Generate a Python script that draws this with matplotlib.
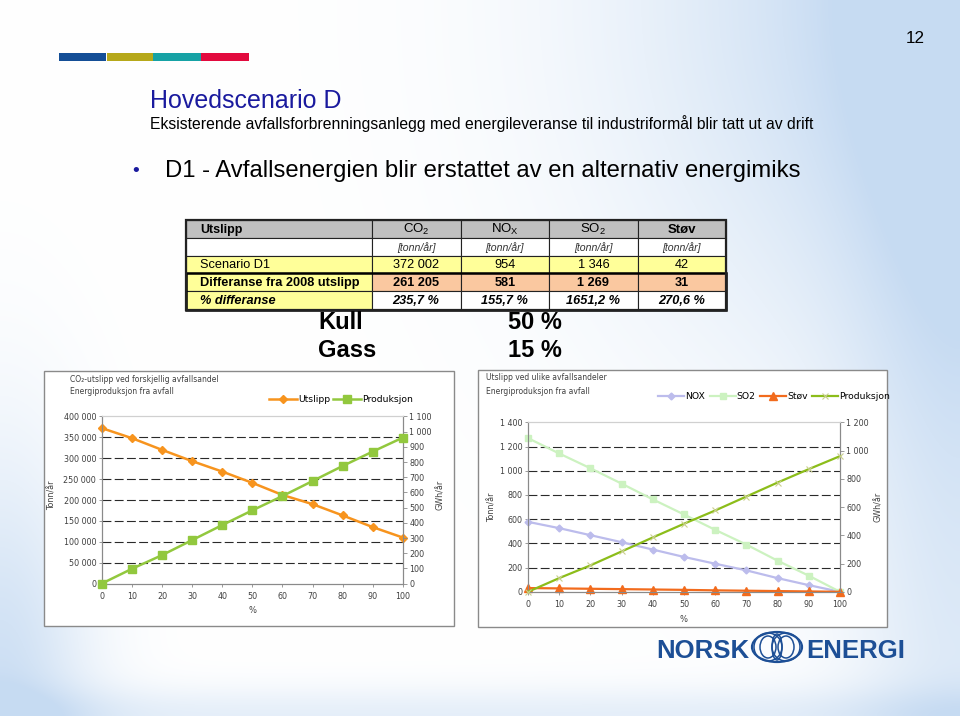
import numpy as np
import matplotlib
matplotlib.use("Agg")
import matplotlib.pyplot as plt
from matplotlib.patches import Rectangle, Ellipse
from matplotlib.ticker import FuncFormatter

W, H = 960, 716
SLIDE = ['Liberation Sans', 'DejaVu Sans']
plt.rcParams['font.family'] = ['DejaVu Sans']

# data
pct = [0, 10, 20, 30, 40, 50, 60, 70, 80, 90, 100]
co2_utslipp = [372000, 348000, 320000, 293000, 268000, 241000, 212000, 190000, 163000, 135000, 110000]
produksjon = [0, 97, 187, 286, 385, 482, 576, 675, 774, 869, 961]
nox = [578, 526, 468, 410, 349, 288, 232, 177, 113, 55, 0]
so2 = [1270, 1143, 1021, 894, 764, 639, 512, 390, 257, 133, 0]
stov = [31, 28, 25, 22, 19, 16, 12, 9, 6, 3, 0]

co2_ticks = list(range(0, 400001, 50000))
gwh_ticks_left = list(range(0, 1101, 100))
tonn_ticks = list(range(0, 1401, 200))
gwh_ticks_right = list(range(0, 1201, 200))

table_head = ['Utslipp', r'CO$_\mathregular{2}$', r'NO$_\mathregular{X}$', r'SO$_\mathregular{2}$', 'Støv']
table_unit = '[tonn/år]'
table_rows = ['Scenario D1', 'Differanse fra 2008 utslipp', '% differanse']
table_vals = [['372 002', '954', '1 346', '42'],
              ['261 205', '581', '1 269', '31'],
              ['235,7 %', '155,7 %', '1651,2 %', '270,6 %']]
energimiks = [('Kull', '50 %'), ('Gass', '15 %')]

fig = plt.figure(figsize=(W / 100, H / 100), dpi=100)


def box(x0, y0, x1, y1):
    return [x0 / W, 1 - y1 / H, (x1 - x0) / W, (y1 - y0) / H]


# slide background
bg = fig.add_axes([0, 0, 1, 1])
yy, xx = np.mgrid[0:H, 0:W].astype(float)
k = (np.exp(-(((W - xx) / 330.0) ** 2 + (yy / 380.0) ** 2))
     + 0.55 * np.exp(-((W - xx) / 110.0) ** 2)
     + 0.9 * np.exp(-((xx / 90.0) ** 2 + ((H - yy) / 260.0) ** 2))
     + 0.45 * np.exp(-((H - yy) / 30.0) ** 2))
k = np.clip(k, 0, 1)[..., None]
tint = np.array([0.78, 0.86, 0.95])
bg.imshow(1 - k * (1 - tint), extent=[0, W, H, 0], aspect='auto', zorder=0)
bg.set_xlim(0, W)
bg.set_ylim(H, 0)
bg.axis('off')

# coloured strip
for x0, c in zip([58.8, 106.5, 153, 201], ['#144e96', '#b6a81a', '#16a2a5', '#e20a3e']):
    bg.add_patch(Rectangle((x0, 53.4), 47.5, 7.3, color=c, lw=0, zorder=2))

bg.text(925, 43.4, '12', ha='right', va='baseline', fontsize=12.3, family=SLIDE)
bg.text(150, 108, 'Hovedscenario D', fontsize=18, color='#1a1a9e', family=SLIDE, va='baseline')
bg.text(150, 128.8, 'Eksisterende avfallsforbrenningsanlegg med energileveranse til industriformål blir tatt ut av drift',
        fontsize=11.3, family=SLIDE, va='baseline')
bg.text(136, 176, '•', fontsize=14, color='#1a1a9e', family=SLIDE, ha='center', va='baseline')
bg.text(165, 177, 'D1 - Avfallsenergien blir erstattet av en alternativ energimiks',
        fontsize=17.2, family=SLIDE, va='baseline')

# table
cols_x = [185.5, 371.7, 460.5, 549.3, 637.5, 725.7]
rows_y = [220, 238.4, 255.7, 273, 291.3, 309.6]
fills = [['#c0c0c0'] * 5, ['white'] * 5, ['#ffff99'] * 5,
         ['#ffff99'] + ['#fac8a0'] * 4, ['#ffff99'] + ['white'] * 4]
for r in range(5):
    for c in range(5):
        bg.add_patch(Rectangle((cols_x[c], rows_y[r]), cols_x[c + 1] - cols_x[c], rows_y[r + 1] - rows_y[r],
                               facecolor=fills[r][c], edgecolor='#222222', lw=0.8, zorder=3))
bg.add_patch(Rectangle((cols_x[0], rows_y[3]), cols_x[-1] - cols_x[0], rows_y[5] - rows_y[3],
                       fill=False, edgecolor='black', lw=1.8, zorder=4))
bg.add_patch(Rectangle((cols_x[0], rows_y[0]), cols_x[-1] - cols_x[0], rows_y[5] - rows_y[0],
                       fill=False, edgecolor='#222222', lw=1.6, zorder=4))


def cell_y(r):
    return (rows_y[r] + rows_y[r + 1]) / 2 + 0.5


def cell_x(c):
    return (cols_x[c] + cols_x[c + 1]) / 2


bg.text(200, cell_y(0), table_head[0], fontsize=9, weight='bold', family=SLIDE, va='center', zorder=5)
for c in range(1, 5):
    bg.text(cell_x(c), cell_y(0), table_head[c], fontsize=9.5, weight='bold' if c == 4 else 'normal',
            family=SLIDE, ha='center', va='center', zorder=5)
    bg.text(cell_x(c), cell_y(1), table_unit, fontsize=7.6, style='italic', color='#333333',
            family=SLIDE, ha='center', va='center', zorder=5)
row_style = [('normal', 'normal'), ('bold', 'normal'), ('bold', 'italic')]
for r in range(3):
    wt, st = row_style[r]
    bg.text(200, cell_y(r + 2), table_rows[r], fontsize=9.2, weight=wt, style=st,
            family=SLIDE, va='center', zorder=5)
    for c in range(4):
        bg.text(cell_x(c + 1), cell_y(r + 2), table_vals[r][c], fontsize=9.2, weight=wt, style=st,
                family=SLIDE, ha='center', va='center', zorder=5)

for (name, share), yb in zip(energimiks, [329, 357]):
    bg.text(318, yb, name, fontsize=17, weight='bold', family=SLIDE, va='baseline', zorder=2)
    bg.text(508, yb, share, fontsize=17, weight='bold', family=SLIDE, va='baseline', zorder=2)

# logo
logo_blue = '#1d4f96'
bg.text(656.5, 657.5, 'NORSK', fontsize=18.5, weight='bold', color=logo_blue, family=SLIDE, va='baseline')
bg.text(806, 657.5, 'ENERGI', fontsize=18.5, weight='bold', color=logo_blue, family=SLIDE, va='baseline')
bg.add_patch(Ellipse((777, 647), 50, 30, fill=False, ec=logo_blue, lw=1.6))
for dx in (-9, 9):
    for w, h in [(28, 28), (16, 22)]:
        bg.add_patch(Ellipse((777 + dx, 647), w, h, fill=False, ec=logo_blue, lw=1.1))
bg.add_patch(Ellipse((777, 647), 10, 26, fill=False, ec=logo_blue, lw=1.1))

# chart frames
for x0, y0, x1, y1 in [(43.5, 370.8, 453.8, 625.6), (477.6, 370, 886.7, 626.5)]:
    bg.add_patch(Rectangle((x0, y0), x1 - x0, y1 - y0, facecolor='white', edgecolor='#8a8a8a', lw=1, zorder=1))

sp = FuncFormatter(lambda v, p: f'{v:,.0f}'.replace(',', ' '))
TXT = '#404040'
SPINE = '#8a8a8a'
dash = (0, (8, 3))


def style_axes(ax, twin, ylim_l, ticks_l, ylim_r, ticks_r):
    ax.patch.set_visible(False)
    ax.set_xlim(0, 100)
    ax.set_xticks(pct)
    ax.set_ylim(*ylim_l)
    ax.set_yticks(ticks_l)
    ax.yaxis.set_major_formatter(sp)
    twin.set_ylim(*ylim_r)
    twin.set_yticks(ticks_r)
    twin.yaxis.set_major_formatter(sp)
    ax.hlines(ticks_l[1:-1], 0, 100, colors='#2a2a2a', linestyles=dash, lw=0.8, zorder=1)
    for a in (ax, twin):
        for s in a.spines.values():
            s.set_color(SPINE)
            s.set_linewidth(0.8)
        a.spines['top'].set_color('#d0d0d0')
    ax.tick_params(axis='y', labelsize=5.8, colors=SPINE, labelcolor=TXT, length=2.5, width=0.6, pad=1.5)
    ax.tick_params(axis='x', labelsize=5.8, colors=SPINE, labelcolor=TXT, length=2, width=0.6, pad=4)
    twin.tick_params(axis='y', labelsize=5.8, colors=SPINE, labelcolor=TXT, length=3, width=0.6, pad=1.5)


# left chart
ax1 = fig.add_axes(box(101.7, 416.4, 403, 583.6))
ax1b = ax1.twinx()
l1, = ax1.plot(pct, co2_utslipp, color='#f7941e', lw=1.8, marker='D', ms=4.5, clip_on=False, zorder=3)
l2, = ax1b.plot(pct, produksjon, color='#92c83e', lw=1.8, marker='s', ms=6, clip_on=False, zorder=3)
style_axes(ax1, ax1b, (0, 400000), co2_ticks, (0, 1100), gwh_ticks_left)
ax1.set_xlabel('%', fontsize=6, color=TXT)
ax1.xaxis.set_label_coords(0.5, -0.135)
ax1.set_ylabel('Tonn/år', fontsize=5.8, color=TXT)
ax1.yaxis.set_label_coords(-0.15, 0.53)
ax1b.set_ylabel('GWh/år', fontsize=5.8, color=TXT)
ax1b.yaxis.set_label_coords(1.111, 0.53)
ax1b.legend([l1, l2], ['Utslipp', 'Produksjon'], loc='center left', bbox_to_anchor=(269, 400),
            bbox_transform=bg.transData, ncol=2, frameon=False, fontsize=6.7, borderpad=0,
            borderaxespad=0, handlelength=3.0, handletextpad=0.1, columnspacing=0.35)
bg.text(70.4, 379, 'CO₂-utslipp ved forskjellig avfallsandel', fontsize=5.5, color=TXT, va='center')
bg.text(70.4, 391, 'Energiproduksjon fra avfall', fontsize=5.5, color=TXT, va='center')

# right chart
ax2 = fig.add_axes(box(528, 422.4, 840, 591.8))
ax2b = ax2.twinx()
r1, = ax2.plot(pct, nox, color='#bcbcec', lw=1.6, marker='D', ms=3.5, clip_on=False, zorder=3)
r2, = ax2.plot(pct, so2, color='#ccf2c0', lw=1.6, marker='s', ms=5, clip_on=False, zorder=3)
r3, = ax2.plot(pct, stov, color='#f26b1d', lw=1.6, marker='^', ms=5.5, clip_on=False, zorder=4)
r4, = ax2b.plot(pct, produksjon, color='#8cbd1a', lw=1.6, marker='x', ms=5, mew=0.8, mec='#c9cf8f',
                clip_on=False, zorder=3)
style_axes(ax2, ax2b, (0, 1400), tonn_ticks, (0, 1200), gwh_ticks_right)
ax2.set_xlabel('%', fontsize=6, color=TXT)
ax2.xaxis.set_label_coords(0.5, -0.135)
ax2.set_ylabel('Tonn/år', fontsize=5.8, color=TXT)
ax2.yaxis.set_label_coords(-0.1, 0.5)
ax2b.set_ylabel('GWh/år', fontsize=5.8, color=TXT)
ax2b.yaxis.set_label_coords(1.11, 0.5)
ax2b.legend([r1, r2, r3, r4], ['NOX', 'SO2', 'Støv', 'Produksjon'], loc='center left',
            bbox_to_anchor=(658, 396.3), bbox_transform=bg.transData, ncol=4, frameon=False,
            fontsize=6.7, borderpad=0, borderaxespad=0, handlelength=2.8, handletextpad=0.1,
            columnspacing=0.5)
bg.text(485.6, 378, 'Utslipp ved ulike avfallsandeler', fontsize=5.5, color=TXT, va='center')
bg.text(485.6, 391, 'Energiproduksjon fra avfall', fontsize=5.5, color=TXT, va='center')

fig.savefig('out.png', dpi=100)
